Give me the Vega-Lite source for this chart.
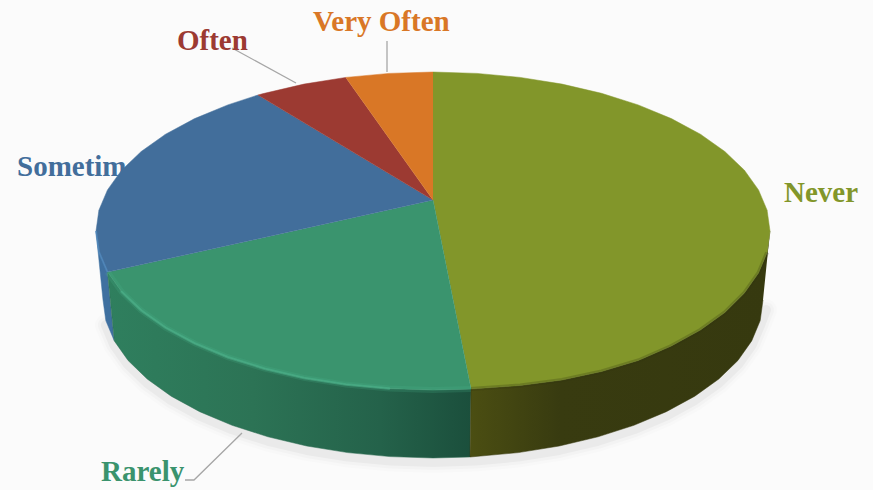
{"$schema":"https://vega.github.io/schema/vega-lite/v6.json","width":873,"height":490,"padding":0,"autosize":{"type":"none"},"background":"#fbfbfb","config":{"view":{"stroke":null}},
"datasets":{"shape":[
{"p":"N","i":0,"x":433,"y":200},{"p":"N","i":1,"x":433,"y":72},{"p":"N","i":2,"x":477,"y":73.4},{"p":"N","i":3,"x":520.2,"y":77.4},{"p":"N","i":4,"x":562,"y":84.1},{"p":"N","i":5,"x":601.5,"y":93.3},{"p":"N","i":6,"x":638.2,"y":104.9},{"p":"N","i":7,"x":671.3,"y":118.6},{"p":"N","i":8,"x":700.4,"y":134.2},{"p":"N","i":9,"x":724.8,"y":151.5},{"p":"N","i":10,"x":744.4,"y":170.2},{"p":"N","i":11,"x":758.5,"y":189.9},{"p":"N","i":12,"x":767.1,"y":210.2},{"p":"N","i":13,"x":770,"y":231},{"p":"N","i":14,"x":767.1,"y":252.5},{"p":"N","i":15,"x":758.5,"y":273},{"p":"N","i":16,"x":744.4,"y":293},{"p":"N","i":17,"x":724.8,"y":312.5},{"p":"N","i":18,"x":700.4,"y":330},{"p":"N","i":19,"x":671.3,"y":346},{"p":"N","i":20,"x":638.2,"y":360.5},{"p":"N","i":21,"x":601.5,"y":371.5},{"p":"N","i":22,"x":562,"y":380},{"p":"N","i":23,"x":520.2,"y":385.5},{"p":"N","i":24,"x":477,"y":388.6},{"p":"N","i":25,"x":471,"y":389},
{"p":"R","i":0,"x":433,"y":200},{"p":"R","i":1,"x":471,"y":389},{"p":"R","i":2,"x":433,"y":390},{"p":"R","i":3,"x":389,"y":388.6},{"p":"R","i":4,"x":345.8,"y":384.6},{"p":"R","i":5,"x":304,"y":377.9},{"p":"R","i":6,"x":264.5,"y":368.7},{"p":"R","i":7,"x":227.8,"y":357.2},{"p":"R","i":8,"x":194.7,"y":343.4},{"p":"R","i":9,"x":165.6,"y":327.8},{"p":"R","i":10,"x":141.2,"y":310.5},{"p":"R","i":11,"x":121.6,"y":291.8},{"p":"R","i":12,"x":107.5,"y":272.1},
{"p":"S","i":0,"x":433,"y":200},{"p":"S","i":1,"x":107.5,"y":272.1},{"p":"S","i":2,"x":98.9,"y":251.8},{"p":"S","i":3,"x":96,"y":231},{"p":"S","i":4,"x":98.9,"y":210.2},{"p":"S","i":5,"x":107.5,"y":189.9},{"p":"S","i":6,"x":121.6,"y":170.2},{"p":"S","i":7,"x":141.2,"y":151.5},{"p":"S","i":8,"x":165.6,"y":134.2},{"p":"S","i":9,"x":194.7,"y":118.6},{"p":"S","i":10,"x":227.8,"y":104.9},{"p":"S","i":11,"x":258,"y":95},
{"p":"O","i":0,"x":433,"y":200},{"p":"O","i":1,"x":258,"y":95},{"p":"O","i":2,"x":264.5,"y":93.3},{"p":"O","i":3,"x":304,"y":84.1},{"p":"O","i":4,"x":345.8,"y":77.4},
{"p":"V","i":0,"x":433,"y":200},{"p":"V","i":1,"x":345.8,"y":77.4},{"p":"V","i":2,"x":389,"y":73.4},{"p":"V","i":3,"x":433,"y":72},
{"p":"NW","i":1,"x":770,"y":231},{"p":"NW","i":2,"x":767.1,"y":252.5},{"p":"NW","i":3,"x":758.5,"y":273},{"p":"NW","i":4,"x":744.4,"y":293},{"p":"NW","i":5,"x":724.8,"y":312.5},{"p":"NW","i":6,"x":700.4,"y":330},{"p":"NW","i":7,"x":671.3,"y":346},{"p":"NW","i":8,"x":638.2,"y":360.5},{"p":"NW","i":9,"x":601.5,"y":371.5},{"p":"NW","i":10,"x":562,"y":380},{"p":"NW","i":11,"x":520.2,"y":385.5},{"p":"NW","i":12,"x":471,"y":389},{"p":"NW","i":13,"x":470,"y":457},{"p":"NW","i":14,"x":518.4,"y":452.6},{"p":"NW","i":15,"x":559.3,"y":446},{"p":"NW","i":16,"x":598,"y":436.8},{"p":"NW","i":17,"x":633.9,"y":425.3},{"p":"NW","i":18,"x":666.3,"y":411.7},{"p":"NW","i":19,"x":694.8,"y":396.2},{"p":"NW","i":20,"x":718.8,"y":379},{"p":"NW","i":21,"x":737.9,"y":360.5},{"p":"NW","i":22,"x":751.7,"y":340.9},{"p":"NW","i":23,"x":760.2,"y":320.6},{"p":"NW","i":24,"x":763,"y":300},
{"p":"RW","i":1,"x":471,"y":389},{"p":"RW","i":2,"x":433,"y":390},{"p":"RW","i":3,"x":389,"y":388.6},{"p":"RW","i":4,"x":345.8,"y":384.6},{"p":"RW","i":5,"x":304,"y":377.9},{"p":"RW","i":6,"x":264.5,"y":368.7},{"p":"RW","i":7,"x":227.8,"y":357.2},{"p":"RW","i":8,"x":194.7,"y":343.4},{"p":"RW","i":9,"x":165.6,"y":327.8},{"p":"RW","i":10,"x":141.2,"y":310.5},{"p":"RW","i":11,"x":121.6,"y":291.8},{"p":"RW","i":12,"x":107.5,"y":272.1},{"p":"RW","i":13,"x":114.3,"y":340.9},{"p":"RW","i":14,"x":128.1,"y":360.5},{"p":"RW","i":15,"x":147.2,"y":379},{"p":"RW","i":16,"x":171.2,"y":396.2},{"p":"RW","i":17,"x":199.7,"y":411.7},{"p":"RW","i":18,"x":232.1,"y":425.3},{"p":"RW","i":19,"x":268,"y":436.8},{"p":"RW","i":20,"x":306.7,"y":446},{"p":"RW","i":21,"x":347.6,"y":452.6},{"p":"RW","i":22,"x":389.9,"y":456.6},{"p":"RW","i":23,"x":433,"y":458},{"p":"RW","i":24,"x":470,"y":457},
{"p":"SW","i":1,"x":107.5,"y":272.1},{"p":"SW","i":2,"x":98.9,"y":251.8},{"p":"SW","i":3,"x":96,"y":231},{"p":"SW","i":4,"x":103,"y":300},{"p":"SW","i":5,"x":105.8,"y":320.6},{"p":"SW","i":6,"x":114.3,"y":340.9},
{"p":"B","i":1,"x":766,"y":310},{"p":"B","i":2,"x":760.2,"y":325},{"p":"B","i":3,"x":751.7,"y":345},{"p":"B","i":4,"x":737.9,"y":364.5},{"p":"B","i":5,"x":718.8,"y":383},{"p":"B","i":6,"x":694.8,"y":400},{"p":"B","i":7,"x":666.3,"y":415.7},{"p":"B","i":8,"x":633.9,"y":429.3},{"p":"B","i":9,"x":598,"y":440.8},{"p":"B","i":10,"x":559.3,"y":450},{"p":"B","i":11,"x":518.4,"y":456.6},{"p":"B","i":12,"x":476.1,"y":460.6},{"p":"B","i":13,"x":433,"y":462},{"p":"B","i":14,"x":389.9,"y":460.6},{"p":"B","i":15,"x":347.6,"y":456.6},{"p":"B","i":16,"x":306.7,"y":450},{"p":"B","i":17,"x":268,"y":440.8},{"p":"B","i":18,"x":232.1,"y":429.3},{"p":"B","i":19,"x":199.7,"y":415.7},{"p":"B","i":20,"x":171.2,"y":400.2},{"p":"B","i":21,"x":147.2,"y":383},{"p":"B","i":22,"x":128.1,"y":364.5},{"p":"B","i":23,"x":114.3,"y":345},{"p":"B","i":24,"x":105.8,"y":325},
{"p":"L1","i":1,"x":232,"y":48},{"p":"L1","i":2,"x":296,"y":83},{"p":"L2","i":1,"x":387,"y":41},{"p":"L2","i":2,"x":387,"y":72},{"p":"L3","i":1,"x":185,"y":480},{"p":"L3","i":2,"x":194,"y":480},{"p":"L3","i":3,"x":242,"y":433}
],
"labels":[
{"category":"Never","x":784,"y":202,"c":"#82962a"},{"category":"Rarely","x":101,"y":481,"c":"#3a936d"},{"category":"Sometimes","x":17,"y":176,"c":"#426e9b"},{"category":"Often","x":177,"y":50,"c":"#9c3a32"},{"category":"Very Often","x":313,"y":31,"c":"#d97726"}
]},
"encoding":{"x":{"field":"x","type":"quantitative","scale":{"domain":[0,873],"range":[0,873]},"axis":null},"y":{"field":"y","type":"quantitative","scale":{"domain":[0,490],"range":[0,490]},"axis":null},"order":{"field":"i","type":"quantitative"}},
"layer":[
{"data":{"name":"labels"},"transform":[{"filter":"datum.category=='Sometimes'"}],"mark":{"type":"text","align":"left","baseline":"alphabetic","font":"Liberation Serif","fontWeight":"bold","fontSize":29,"color":"#426e9b"},"encoding":{"text":{"field":"category"},"order":null}},
{"data":{"name":"shape"},"transform":[{"filter":"datum.p=='B'"}],"mark":{"type":"line","stroke":"#000","strokeWidth":22,"opacity":0.012,"strokeCap":"round","strokeJoin":"round"}},
{"data":{"name":"shape"},"transform":[{"filter":"datum.p=='B'"}],"mark":{"type":"line","stroke":"#000","strokeWidth":16,"opacity":0.02,"strokeCap":"round","strokeJoin":"round"}},
{"data":{"name":"shape"},"transform":[{"filter":"datum.p=='B'"}],"mark":{"type":"line","stroke":"#000","strokeWidth":10,"opacity":0.035,"strokeCap":"round","strokeJoin":"round"}},
{"data":{"name":"shape"},"transform":[{"filter":"datum.p=='SW'"}],"mark":{"type":"line","fill":"#3f70a0","stroke":"#3f70a0","strokeWidth":0.5}},
{"data":{"name":"shape"},"transform":[{"filter":"datum.p=='RW'"}],"mark":{"type":"line","stroke":"#2a6b50","strokeWidth":0.5,"fill":{"gradient":"linear","x1":0,"x2":1,"y1":0,"y2":0,"stops":[{"offset":0,"color":"#2f7f5e"},{"offset":0.4,"color":"#2c7355"},{"offset":0.75,"color":"#24624a"},{"offset":1,"color":"#1b4f3c"}]}}},
{"data":{"name":"shape"},"transform":[{"filter":"datum.p=='NW'"}],"mark":{"type":"line","stroke":"#37390f","strokeWidth":0.5,"fill":{"gradient":"linear","x1":0,"x2":1,"y1":0,"y2":0,"stops":[{"offset":0,"color":"#4b4e12"},{"offset":0.3,"color":"#383b10"},{"offset":1,"color":"#36390f"}]}}},
{"data":{"name":"shape"},"transform":[{"filter":"datum.p=='N'"}],"mark":{"type":"line","fill":"#82962a","stroke":"#82962a","strokeWidth":0.5}},
{"data":{"name":"shape"},"transform":[{"filter":"datum.p=='R'"}],"mark":{"type":"line","fill":"#3a946e","stroke":"#3a946e","strokeWidth":0.5}},
{"data":{"name":"shape"},"transform":[{"filter":"datum.p=='S'"}],"mark":{"type":"line","fill":"#426e9b","stroke":"#426e9b","strokeWidth":0.5}},
{"data":{"name":"shape"},"transform":[{"filter":"datum.p=='O'"}],"mark":{"type":"line","fill":"#9c3a32","stroke":"#9c3a32","strokeWidth":0.5}},
{"data":{"name":"shape"},"transform":[{"filter":"datum.p=='V'"}],"mark":{"type":"line","fill":"#d97726","stroke":"#d97726","strokeWidth":0.5}},
{"data":{"name":"shape"},"transform":[{"filter":"datum.p=='R'&&datum.i>=1&&datum.i<=12"}],"mark":{"type":"line","stroke":"#4db48c","strokeWidth":6,"opacity":0.2}},
{"data":{"name":"shape"},"transform":[{"filter":"datum.p=='R'&&datum.i>=3&&datum.i<=11"}],"mark":{"type":"line","stroke":"#4db48c","strokeWidth":2.5,"opacity":0.55,"strokeCap":"round"}},
{"data":{"name":"shape"},"transform":[{"filter":"datum.p=='S'&&datum.i>=1&&datum.i<=3"}],"mark":{"type":"line","stroke":"#5593cc","strokeWidth":2,"opacity":0.5}},
{"data":{"name":"shape"},"transform":[{"filter":"datum.p=='N'&&datum.i>=14"}],"mark":{"type":"line","stroke":"#2f3210","strokeWidth":4,"opacity":0.25}},
{"data":{"name":"shape"},"transform":[{"filter":"datum.p=='L1'||datum.p=='L2'||datum.p=='L3'"}],"mark":{"type":"line","stroke":"#a6a6a6","strokeWidth":1.3},"encoding":{"detail":{"field":"p"}}},
{"data":{"name":"labels"},"transform":[{"filter":"datum.category!='Sometimes'"}],"mark":{"type":"text","align":"left","baseline":"alphabetic","font":"Liberation Serif","fontWeight":"bold","fontSize":29},"encoding":{"text":{"field":"category"},"color":{"field":"c","type":"nominal","scale":null,"legend":null},"order":null}}
]}
